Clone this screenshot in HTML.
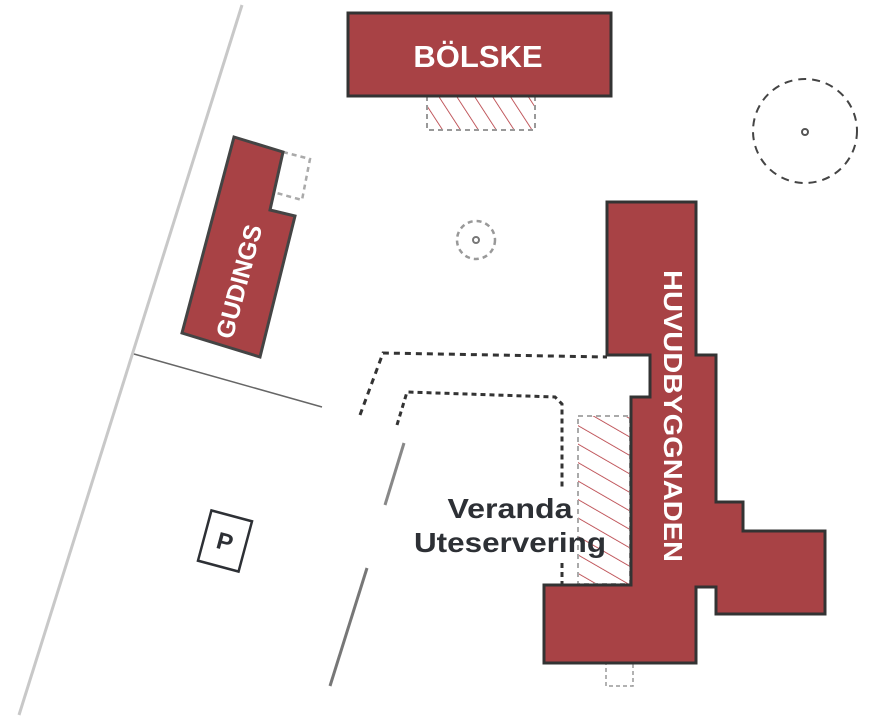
<!DOCTYPE html>
<html><head><meta charset="utf-8"><style>html,body{margin:0;padding:0;background:#fff}svg{display:block}</style></head><body>
<svg width="886" height="720" viewBox="0 0 886 720" xmlns="http://www.w3.org/2000/svg" font-family="Liberation Sans, sans-serif">
<defs>
<pattern id="h1" patternUnits="userSpaceOnUse" width="16" height="16" patternTransform="rotate(-60)">
<line x1="0" y1="0" x2="0" y2="16" stroke="#b3343a" stroke-width="1.6"/></pattern>
<pattern id="h2" patternUnits="userSpaceOnUse" width="15" height="15" patternTransform="rotate(-33)">
<line x1="0" y1="0" x2="0" y2="15" stroke="#b3343a" stroke-width="1.6"/></pattern>
</defs>
<line x1="242" y1="5" x2="19" y2="715" stroke="#c8c8c8" stroke-width="3"/>
<line x1="134" y1="354" x2="322" y2="407" stroke="#666" stroke-width="1.5"/>
<line x1="404" y1="443" x2="385" y2="505" stroke="#888" stroke-width="3"/>
<line x1="367" y1="568" x2="330" y2="686" stroke="#777" stroke-width="3"/>
<path d="M360 415 L383 353 L607 357" fill="none" stroke="#333" stroke-width="3" stroke-dasharray="6 5"/>
<path d="M397 425 L407 392 L555 397 L562 404 L562 490" fill="none" stroke="#333" stroke-width="3" stroke-dasharray="5 4"/>
<path d="M562 563 L562 585" fill="none" stroke="#333" stroke-width="3" stroke-dasharray="5 4"/>
<circle cx="805" cy="131" r="52" fill="none" stroke="#444" stroke-width="2" stroke-dasharray="8 6"/>
<circle cx="805" cy="132" r="3" fill="none" stroke="#555" stroke-width="2"/>
<circle cx="476" cy="240" r="19" fill="none" stroke="#999" stroke-width="2.5" stroke-dasharray="5 4"/>
<circle cx="476" cy="240" r="3" fill="none" stroke="#777" stroke-width="2"/>
<rect x="427" y="96" width="108" height="34" fill="url(#h2)" stroke="#999" stroke-width="2" stroke-dasharray="5 4"/>
<rect x="578" y="416" width="52" height="168" fill="url(#h1)" stroke="#aaa" stroke-width="2" stroke-dasharray="5 4"/>
<rect x="606" y="663" width="27" height="23" fill="none" stroke="#999" stroke-width="1.5" stroke-dasharray="4 3"/>
<rect x="348" y="13" width="263" height="83" fill="#a84245" stroke="#333" stroke-width="3"/>
<text x="478" y="67" font-size="31" font-weight="bold" fill="#fff" text-anchor="middle">BÖLSKE</text>
<path d="M283 152 L310 159 L302 200 L273 192" fill="none" stroke="#aaa" stroke-width="2.5" stroke-dasharray="5 4"/>
<path d="M234 137 L283 152 L270 210 L295 216 L260 357 L182 333 Z" fill="#a84245" stroke="#444" stroke-width="3"/>
<text transform="translate(241,282) rotate(-75)" font-size="25" font-weight="bold" fill="#fff" text-anchor="middle" dominant-baseline="middle">GUDINGS</text>
<path d="M607 202 L696 202 L696 355 L716 355 L716 502 L743 502 L743 531 L825 531 L825 614 L716 614 L716 587 L696 587 L696 663 L544 663 L544 585 L631 585 L631 397 L650 397 L650 355 L607 355 Z" fill="#a84245" stroke="#333" stroke-width="3" stroke-linejoin="miter"/>
<text transform="translate(671,416) rotate(90)" font-size="26" font-weight="bold" fill="#fff" text-anchor="middle" dominant-baseline="middle" textLength="292" lengthAdjust="spacingAndGlyphs">HUVUDBYGGNADEN</text>
<text x="510" y="518" font-size="28" font-weight="bold" fill="#2d3035" text-anchor="middle" textLength="125" lengthAdjust="spacingAndGlyphs">Veranda</text>
<text x="510" y="552" font-size="28" font-weight="bold" fill="#2d3035" text-anchor="middle" textLength="192" lengthAdjust="spacingAndGlyphs">Uteservering</text>
<g transform="translate(225,541) rotate(15)">
<rect x="-21" y="-26" width="42" height="52" fill="#fff" stroke="#2d3035" stroke-width="2.5"/>
<text x="0" y="9" font-size="24" font-weight="bold" fill="#2d3035" text-anchor="middle">P</text>
</g>
</svg>
</body></html>
